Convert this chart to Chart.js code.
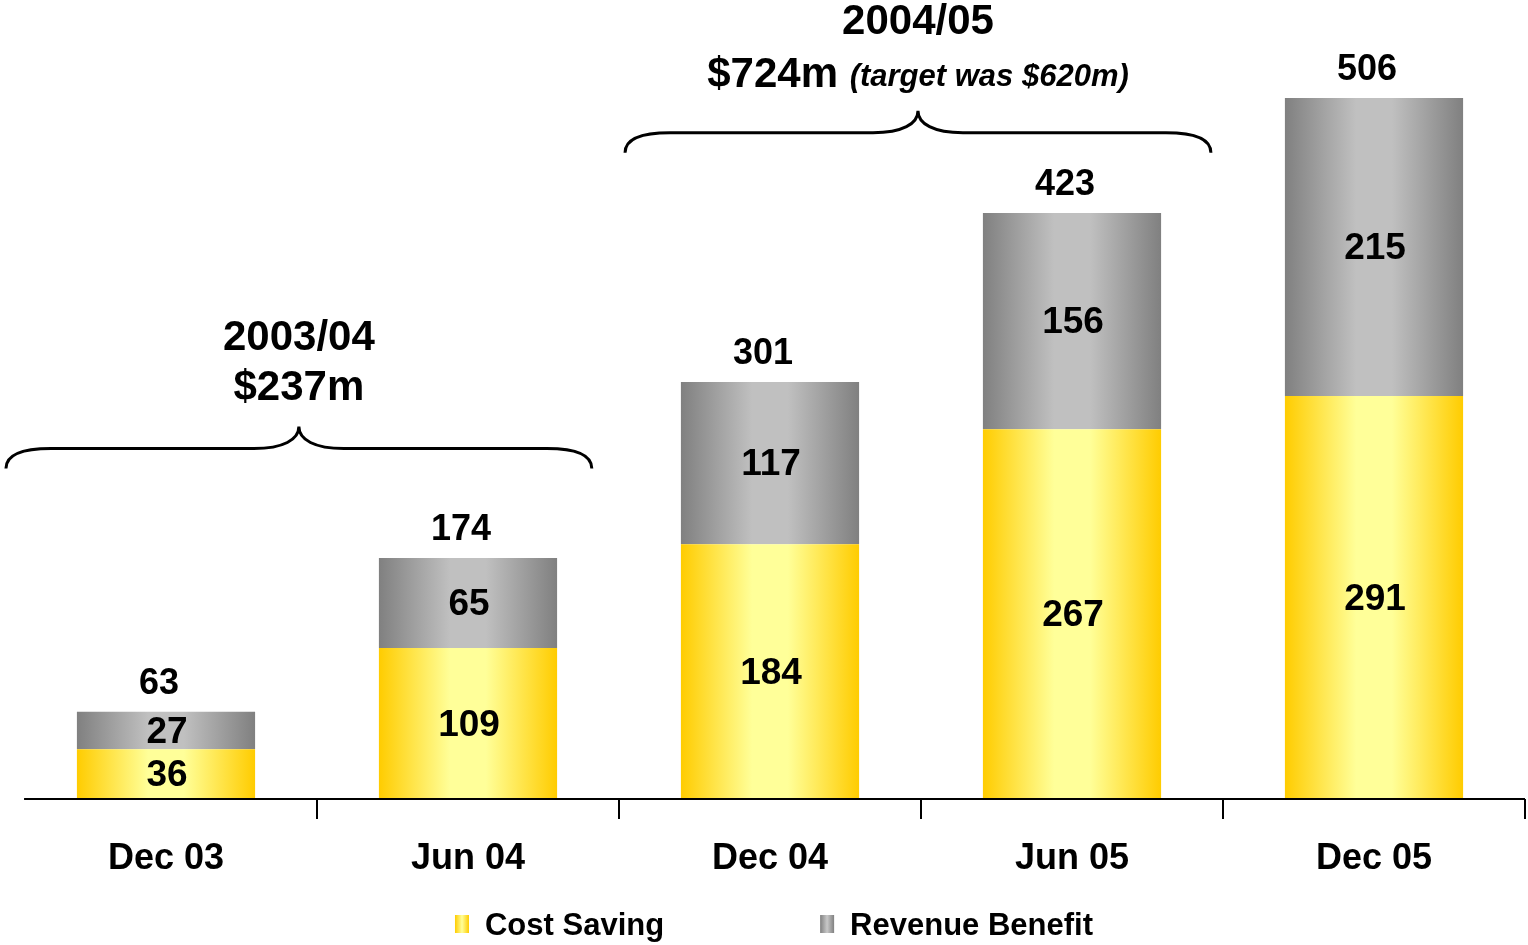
<!DOCTYPE html>
<html>
<head>
<meta charset="utf-8">
<script src="https://cdn.jsdelivr.net/npm/chart.js@4/dist/chart.umd.min.js"></script>
<style>
  html, body { margin: 0; padding: 0; background: #fff; }
  #wrap { width: 1528px; height: 945px; }
</style>
</head>
<body>
<div id="wrap"><canvas id="savingsChart" width="1528" height="945"></canvas></div>
<script>
// Values ($m)
const periods = ['Dec 03', 'Jun 04', 'Dec 04', 'Jun 05', 'Dec 05'];
const costSaving = [36, 109, 184, 267, 291];
const revenueBenefit = [27, 65, 117, 156, 215];
const totals = [63, 174, 301, 423, 506];

// Yearly brackets above the bars
const yearLabels = ['2003/04', '2004/05'];
const yearTotals = ['$237m', '$724m'];
const yearNotes = ['', '(target was $620m)'];
const yearSpans = [[0, 1], [2, 3]];

const FONT = '"Liberation Sans", Arial, Helvetica, sans-serif';
const BAR_PCT = 0.59;

// horizontal gradient across one bar, edge -> centre -> edge
function barGradient(edge, centre) {
    return (c) => {
        const chart = c.chart;
        const xs = chart.scales.x;
        if (c.type !== 'data' || !xs || !xs.ticks.length) return edge;
        const cx = xs.getPixelForValue(c.dataIndex);
        const w = (xs.width / xs.ticks.length) * BAR_PCT;
        const g = chart.ctx.createLinearGradient(cx - w / 2, 0, cx + w / 2, 0);
        g.addColorStop(0, edge);
        g.addColorStop(0.4, centre);
        g.addColorStop(0.6, centre);
        g.addColorStop(1, edge);
        return g;
    };
}

function drawBrace(ctx, x0, x1, y, cx) {
    const d = 20, r = 22, L = 45;
    ctx.beginPath();
    ctx.moveTo(x0, y + d);
    ctx.bezierCurveTo(x0, y + d * 0.3, x0 + L * 0.35, y, x0 + L, y);
    ctx.lineTo(cx - L, y);
    ctx.bezierCurveTo(cx - L * 0.35, y, cx, y - r * 0.4, cx, y - r);
    ctx.moveTo(cx, y - r);
    ctx.bezierCurveTo(cx, y - r * 0.4, cx + L * 0.35, y, cx + L, y);
    ctx.lineTo(x1 - L, y);
    ctx.bezierCurveTo(x1 - L * 0.35, y, x1, y + d * 0.3, x1, y + d);
    ctx.stroke();
}

// Labels, baseline, brackets and legend
const decorPlugin = {
    id: 'decor',
    afterDatasetsDraw(chart, args, opts) {
        const ctx = chart.ctx;
        const xs = chart.scales.x, ys = chart.scales.y;
        const catW = xs.width / xs.ticks.length;
        ctx.save();
        ctx.fillStyle = '#000';
        ctx.textAlign = 'center';
        ctx.textBaseline = 'middle';

        // segment values
        ctx.font = 'bold 37px ' + FONT;
        chart.data.datasets.forEach((ds, di) => {
            chart.getDatasetMeta(di).data.forEach((el, i) => {
                ctx.fillText(String(ds.data[i]), el.x + 1, (el.y + el.base) / 2 + 2);
            });
        });

        // totals above the stacks
        ctx.font = 'bold 36px ' + FONT;
        const topMeta = chart.getDatasetMeta(chart.data.datasets.length - 1);
        topMeta.data.forEach((el, i) => {
            ctx.fillText(String(totals[i]), el.x - 7, el.y - 28);
        });

        // axis baseline
        ctx.strokeStyle = '#000';
        ctx.lineWidth = 2;
        ctx.beginPath();
        ctx.moveTo(xs.getPixelForValue(0) - catW * 0.47, chart.chartArea.bottom);
        ctx.lineTo(chart.chartArea.right, chart.chartArea.bottom);
        ctx.stroke();

        // yearly braces and titles
        ctx.lineWidth = 3;
        yearSpans.forEach((span, k) => {
            const b = opts.braces[k];
            const x0 = xs.getPixelForValue(span[0]) - catW * b.left;
            const x1 = xs.getPixelForValue(span[1]) + catW * b.right;
            const cx = (x0 + x1) / 2;
            const y = ys.getPixelForValue(b.level);
            drawBrace(ctx, x0, x1, y, cx);

            ctx.font = 'bold 42px ' + FONT;
            ctx.textAlign = 'center';
            ctx.fillText(yearLabels[k], cx, y - 110);
            if (yearNotes[k]) {
                const main = yearTotals[k] + ' ';
                const mainW = ctx.measureText(main).width;
                ctx.font = 'italic bold 31px ' + FONT;
                const noteW = ctx.measureText(yearNotes[k]).width;
                const start = cx - (mainW + noteW) / 2;
                ctx.textAlign = 'left';
                ctx.font = 'bold 42px ' + FONT;
                ctx.fillText(main, start, y - 57);
                ctx.font = 'italic bold 31px ' + FONT;
                ctx.fillText(yearNotes[k], start + mainW, y - 55);
            } else {
                ctx.fillText(yearTotals[k], cx, y - 60);
            }
        });

        // legend
        ctx.font = 'bold 31px ' + FONT;
        ctx.textAlign = 'left';
        const boxW = 14, boxH = 18, boxGap = 16, itemGap = 156;
        const items = chart.data.datasets.map((ds, di) => ({
            text: ds.label,
            colors: opts.legendColors[di],
            w: boxW + boxGap + ctx.measureText(ds.label).width
        }));
        const totalW = items.reduce((s, it) => s + it.w, 0) + itemGap * (items.length - 1);
        let lx = (chart.chartArea.left + chart.chartArea.right) / 2 + 4 - totalW / 2;
        const ly = opts.legendY;
        items.forEach(it => {
            const g = ctx.createLinearGradient(lx, 0, lx + boxW, 0);
            g.addColorStop(0, it.colors[0]);
            g.addColorStop(0.5, it.colors[1]);
            g.addColorStop(1, it.colors[0]);
            ctx.fillStyle = g;
            ctx.fillRect(lx, ly - boxH / 2, boxW, boxH);
            ctx.fillStyle = '#000';
            ctx.fillText(it.text, lx + boxW + boxGap, ly + 2);
            lx += it.w + itemGap;
        });
        ctx.restore();
    }
};

const ctx = document.getElementById('savingsChart').getContext('2d');
const savingsChart = new Chart(ctx, {
    type: 'bar',
    data: {
        labels: periods,
        datasets: [{
            label: 'Cost Saving',
            data: costSaving,
            backgroundColor: barGradient('#FFCC00', '#FFFF99')
        }, {
            label: 'Revenue Benefit',
            data: revenueBenefit,
            backgroundColor: barGradient('#808080', '#C0C0C0')
        }]
    },
    options: {
        responsive: false,
        animation: false,
        devicePixelRatio: 1,
        categoryPercentage: 1,
        barPercentage: BAR_PCT,
        layout: { padding: { left: 15, right: 3, top: 51, bottom: 0 } },
        scales: {
            x: {
                stacked: true,
                afterFit: (scale) => { scale.height = 146; },
                border: { display: false },
                grid: {
                    offset: true,
                    drawOnChartArea: false,
                    tickLength: 20,
                    lineWidth: 2,
                    color: (c) => c.index === 0 ? 'rgba(0,0,0,0)' : '#000'
                },
                ticks: {
                    color: '#000',
                    padding: 18,
                    font: { family: FONT, size: 36, weight: 'bold' }
                }
            },
            y: {
                stacked: true,
                display: false,
                min: 0,
                max: 540
            }
        },
        plugins: {
            legend: { display: false },
            tooltip: { enabled: false },
            decor: {
                braces: [
                    { left: 0.53, right: 0.41, level: 253 },
                    { left: 0.48, right: 0.46, level: 481 }
                ],
                legendColors: [['#FFCC00', '#FFFF99'], ['#808080', '#C8C8C8']],
                legendY: 924
            }
        }
    },
    plugins: [decorPlugin]
});
</script>
</body>
</html>
